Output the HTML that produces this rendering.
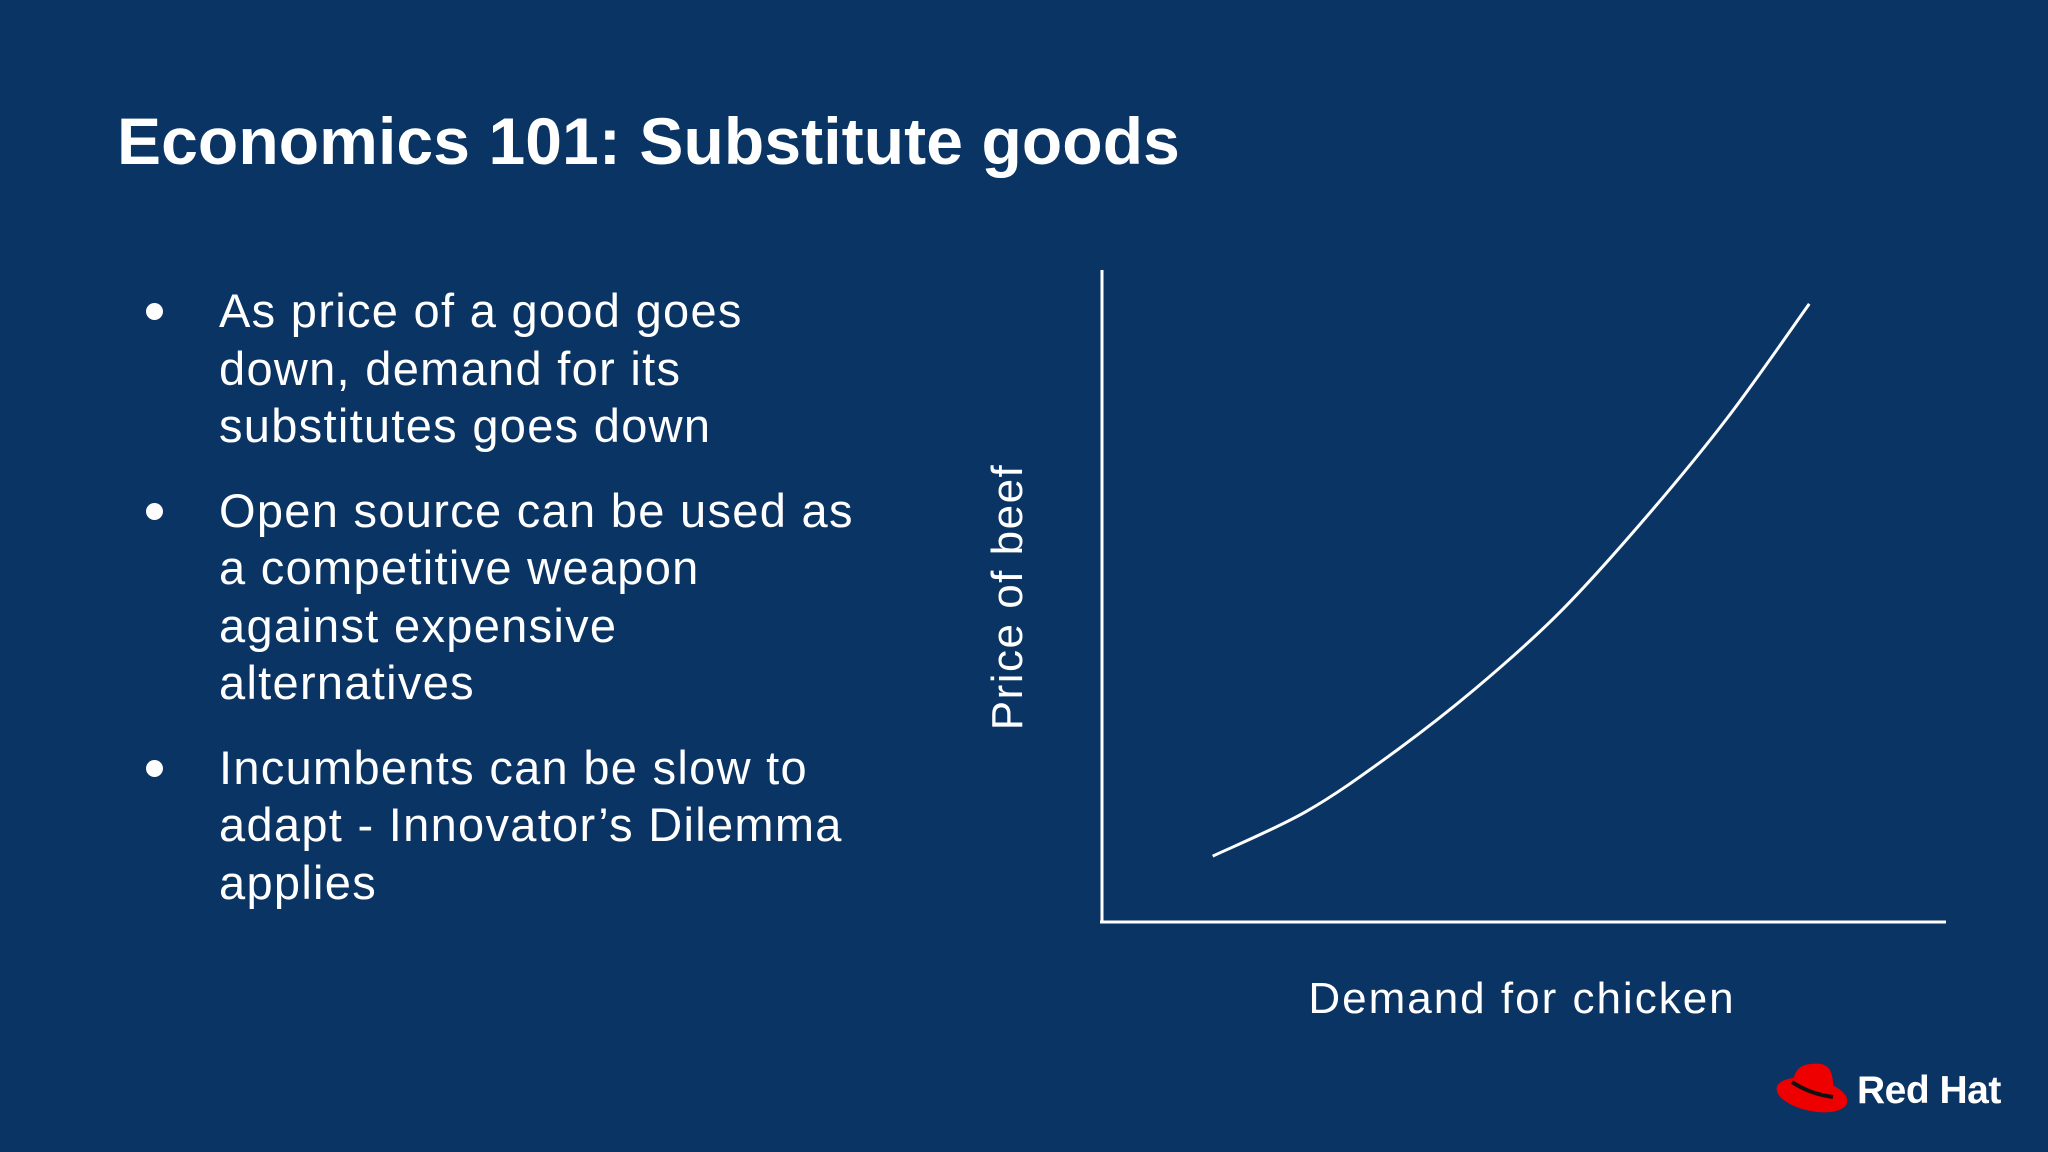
<!DOCTYPE html>
<html><head><meta charset="utf-8">
<style>
html,body{margin:0;padding:0;}
body{width:2048px;height:1152px;background:#0a3463;position:relative;overflow:hidden;font-family:"Liberation Sans",sans-serif;color:#fff;}
#title{position:absolute;left:117px;top:103px;font-size:66px;font-weight:bold;margin:0;letter-spacing:0.1px;}
ul{position:absolute;left:146px;top:282px;margin:0;padding:0;list-style:none;width:900px;}
li{position:relative;padding-left:73px;font-size:47px;line-height:57.5px;margin-bottom:27px;white-space:nowrap;letter-spacing:1.3px;}
li::before{content:"";position:absolute;left:0;top:21px;width:17px;height:17px;border-radius:50%;background:#fff;}
svg{position:absolute;left:0;top:0;}
</style></head>
<body>
<h1 id="title">Economics 101: Substitute goods</h1>
<ul>
<li>As price of a good goes<br>down, demand for its<br>substitutes goes down</li>
<li>Open source can be used as<br>a competitive weapon<br>against expensive<br>alternatives</li>
<li>Incumbents can be slow to<br>adapt - Innovator’s Dilemma<br>applies</li>
</ul>
<svg id="chart" width="2048" height="1152">
<line x1="1102" y1="270" x2="1102" y2="923" stroke="#fff" stroke-width="3"/>
<line x1="1100" y1="922" x2="1946" y2="922" stroke="#fff" stroke-width="3"/>
<text x="1022" y="597" transform="rotate(-90 1022 597)" text-anchor="middle" font-size="44" letter-spacing="1.5" fill="#fff" font-family="Liberation Sans, sans-serif">Price of beef</text>
<text x="1522" y="1013" text-anchor="middle" font-size="44" letter-spacing="2" fill="#fff" font-family="Liberation Sans, sans-serif">Demand for chicken</text>
<path id="curve" fill="none" stroke="#fff" stroke-width="3"/>
</svg>
<svg width="2048" height="1152">
<g>
<ellipse cx="1812" cy="1095" rx="36" ry="16" fill="#ee0000" transform="rotate(12 1812 1095)"/>
<path d="M1793 1082 Q1795 1064 1812 1064 Q1825 1062 1830 1070 Q1835 1080 1832 1098 Q1810 1092 1793 1082Z" fill="#ee0000"/>
<path d="M1792 1082 Q1810 1094 1833 1097" stroke="#111" stroke-width="4" fill="none"/>
</g>
<text x="1857" y="1103" font-size="39" font-weight="bold" fill="#fff" font-family="Liberation Sans, sans-serif" letter-spacing="-0.5">Red Hat</text>
</svg>
<script>
const demandX = [13.1, 24.1, 34.1, 44.1, 54.1, 64.0, 74.0, 83.7];
const priceY  = [10.1, 16.9, 25.6, 35.7, 47.4, 61.5, 77.3, 94.8];
function sx(v){return 1102 + v/100*845;}
function sy(v){return 922 - v/100*652;}
const pts = demandX.map((x,i)=>[sx(x), sy(priceY[i])]);
let d = "M"+pts[0][0]+" "+pts[0][1];
for(let i=0;i<pts.length-1;i++){
  const p0=pts[Math.max(0,i-1)],p1=pts[i],p2=pts[i+1],p3=pts[Math.min(pts.length-1,i+2)];
  const c1=[p1[0]+(p2[0]-p0[0])/6,p1[1]+(p2[1]-p0[1])/6];
  const c2=[p2[0]-(p3[0]-p1[0])/6,p2[1]-(p3[1]-p1[1])/6];
  d+=" C"+c1.join(" ")+" "+c2.join(" ")+" "+p2.join(" ");
}
const c=document.getElementById('curve');
c.setAttribute('d',d);


</script>
</body></html>
